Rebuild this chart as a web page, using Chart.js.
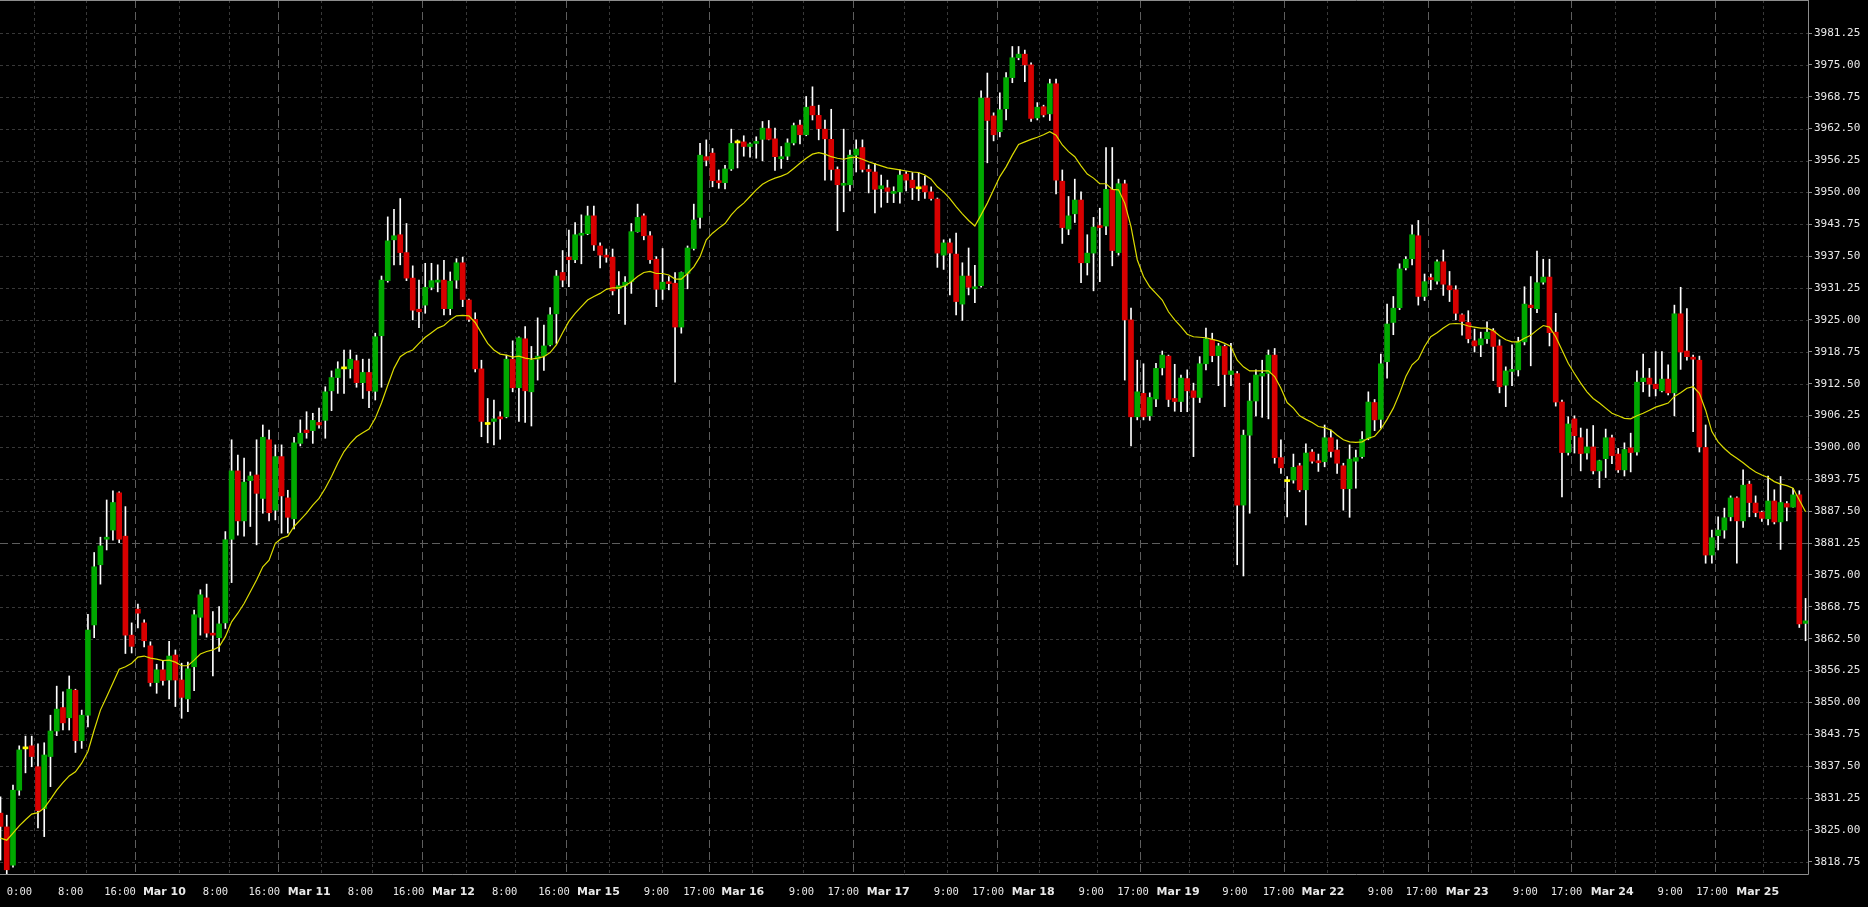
<!DOCTYPE html>
<html>
<head>
<meta charset="utf-8">
<title>Candles</title>
<script src="https://cdn.jsdelivr.net/npm/chart.js@4.4.1/dist/chart.umd.min.js"></script>
<style>
  html, body { margin: 0; padding: 0; background: #000; }
  #wrap { position: relative; width: 1868px; height: 907px; }
</style>
</head>
<body>
<div id="wrap"><canvas id="chart"></canvas></div>
<script>
const opens = [
  3828.3, 3825.6, 3818.1, 3832.8, 3840.9, 3841.5, 3837.4, 3829.2, 3839.4, 3844.4,
  3849.0, 3847.0, 3852.4, 3842.5, 3847.5, 3865.2, 3877.0, 3882.0, 3883.8, 3891.1,
  3882.6, 3863.2, 3868.3, 3865.6, 3861.1, 3853.9, 3856.4, 3854.4, 3859.3, 3854.4,
  3850.7, 3857.0, 3866.7, 3870.5, 3863.5, 3862.7, 3865.6, 3882.0, 3895.4, 3885.6,
  3893.5, 3894.6, 3890.0, 3901.5, 3887.7, 3898.2, 3890.1, 3886.0, 3900.8, 3903.4,
  3903.3, 3904.9, 3905.3, 3911.1, 3913.7, 3915.4, 3915.4, 3917.0, 3912.7, 3914.7,
  3911.0, 3921.9, 3932.7, 3940.7, 3941.7, 3938.2, 3933.2, 3927.1, 3927.9, 3931.4,
  3932.4, 3932.8, 3927.2, 3932.8, 3936.2, 3928.9, 3925.1, 3915.4, 3904.5, 3905.1,
  3906.0, 3906.0, 3917.3, 3911.7, 3921.3, 3910.9, 3917.3, 3918.0, 3920.1, 3926.2,
  3934.3, 3937.3, 3936.8, 3941.6, 3941.9, 3945.4, 3939.5, 3937.7, 3937.3, 3931.1,
  3931.7, 3932.5, 3942.3, 3945.4, 3941.5, 3936.9, 3931.0, 3932.4, 3932.2, 3923.6,
  3934.1, 3939.0, 3945.1, 3957.0, 3957.7, 3952.2, 3951.9, 3954.6, 3959.7, 3959.9,
  3959.0, 3959.6, 3960.4, 3962.5, 3960.5, 3956.6, 3957.1, 3959.7, 3963.2, 3961.3,
  3966.9, 3965.1, 3962.4, 3960.4, 3954.5, 3951.4, 3951.5, 3957.3, 3958.8, 3954.5,
  3954.0, 3950.7, 3950.9, 3949.8, 3950.1, 3953.6, 3952.4, 3950.7, 3951.3, 3950.1,
  3948.7, 3937.7, 3940.1, 3937.9, 3928.1, 3933.6, 3931.1, 3931.7, 3968.5, 3965.0,
  3961.9, 3966.4, 3972.5, 3976.4, 3977.1, 3975.0, 3964.6, 3966.8, 3965.4, 3971.3,
  3952.2, 3942.8, 3945.8, 3948.5, 3936.2, 3938.1, 3943.4, 3943.4, 3950.6, 3938.2,
  3951.7, 3925.0, 3906.0, 3910.6, 3906.2, 3909.5, 3915.6, 3917.9, 3909.6, 3909.0,
  3913.5, 3911.1, 3909.8, 3916.4, 3921.2, 3918.0, 3919.8, 3914.3, 3914.5, 3888.7,
  3902.4, 3909.1, 3914.0, 3914.5, 3918.1, 3898.0, 3893.3, 3893.6, 3896.4, 3891.7,
  3899.1, 3897.3, 3897.2, 3901.9, 3899.5, 3896.4, 3891.9, 3897.3, 3898.2, 3901.7,
  3908.8, 3905.5, 3916.8, 3924.5, 3927.4, 3935.2, 3937.0, 3941.5, 3929.6, 3933.2,
  3932.6, 3936.4, 3931.7, 3930.9, 3926.0, 3924.5, 3920.9, 3920.1, 3921.3, 3922.9,
  3919.9, 3912.2, 3914.9, 3915.2, 3920.7, 3927.9, 3927.2, 3932.4, 3933.4, 3922.6,
  3908.9, 3899.0, 3905.6, 3901.9, 3898.9, 3900.1, 3895.4, 3897.8, 3901.9, 3898.7,
  3895.6, 3899.9, 3899.1, 3912.9, 3913.6, 3912.4, 3911.1, 3913.4, 3910.7, 3926.2,
  3918.9, 3917.7, 3917.1, 3900.0, 3878.9, 3882.7, 3883.8, 3886.4, 3890.1, 3885.6,
  3892.8, 3889.1, 3887.3, 3886.0, 3889.5, 3885.4, 3889.0, 3888.3, 3890.7, 3865.5
];

const highs = [
  3831.5, 3827.9, 3833.8, 3841.5, 3843.4, 3843.4, 3841.9, 3842.1, 3847.5, 3853.2,
  3852.1, 3855.2, 3852.6, 3848.5, 3867.3, 3879.4, 3882.4, 3889.7, 3891.5, 3891.3,
  3888.4, 3865.6, 3869.3, 3866.2, 3861.9, 3857.5, 3858.2, 3862.0, 3860.3, 3857.7,
  3857.9, 3868.1, 3872.1, 3873.2, 3867.8, 3868.8, 3883.5, 3901.5, 3898.5, 3897.9,
  3895.2, 3901.5, 3904.4, 3903.4, 3900.5, 3900.5, 3891.6, 3902.0, 3905.4, 3907.0,
  3906.7, 3907.7, 3911.9, 3915.0, 3916.8, 3919.1, 3919.1, 3918.1, 3917.3, 3917.3,
  3922.4, 3933.6, 3945.2, 3946.7, 3948.8, 3943.9, 3935.6, 3932.8, 3936.1, 3936.1,
  3935.8, 3936.7, 3934.4, 3937.0, 3937.3, 3929.1, 3926.4, 3917.1, 3909.6, 3909.3,
  3907.0, 3918.1, 3920.9, 3921.7, 3923.7, 3919.8, 3925.4, 3924.0, 3927.4, 3934.7,
  3938.6, 3942.6, 3944.1, 3945.6, 3947.3, 3947.3, 3940.1, 3938.9, 3938.9, 3934.5,
  3933.5, 3943.9, 3947.7, 3945.8, 3942.3, 3937.4, 3939.0, 3933.5, 3934.3, 3934.4,
  3939.5, 3947.7, 3959.6, 3960.3, 3958.6, 3954.4, 3955.3, 3962.4, 3960.3, 3961.1,
  3959.7, 3960.9, 3963.9, 3964.1, 3962.6, 3959.0, 3960.5, 3963.6, 3964.2, 3968.8,
  3970.7, 3967.1, 3964.2, 3966.3, 3955.0, 3962.4, 3958.3, 3960.3, 3960.3, 3955.4,
  3955.7, 3953.4, 3952.4, 3951.1, 3954.4, 3954.1, 3953.9, 3953.9, 3953.2, 3951.1,
  3948.9, 3940.7, 3940.9, 3942.0, 3936.2, 3939.1, 3935.7, 3969.9, 3973.4, 3965.6,
  3969.5, 3973.5, 3978.6, 3978.6, 3977.9, 3975.4, 3967.6, 3967.1, 3972.2, 3972.2,
  3954.4, 3949.2, 3952.6, 3950.1, 3941.7, 3945.1, 3946.9, 3958.8, 3958.8, 3952.6,
  3952.4, 3927.3, 3917.1, 3916.4, 3910.7, 3916.5, 3918.9, 3918.1, 3916.3, 3914.2,
  3915.2, 3912.6, 3917.8, 3923.4, 3922.4, 3920.4, 3920.1, 3920.4, 3914.9, 3903.4,
  3912.6, 3915.2, 3917.1, 3919.1, 3919.4, 3901.5, 3894.3, 3898.7, 3896.9, 3900.7,
  3899.6, 3898.7, 3904.4, 3903.4, 3901.5, 3896.9, 3900.5, 3899.5, 3903.1, 3910.9,
  3909.4, 3918.3, 3928.1, 3929.6, 3936.0, 3937.4, 3943.6, 3944.5, 3934.0, 3934.0,
  3936.8, 3938.7, 3934.5, 3931.7, 3926.2, 3926.8, 3923.2, 3922.6, 3924.6, 3923.3,
  3921.1, 3915.8, 3920.1, 3921.6, 3931.5, 3933.5, 3938.5, 3936.9, 3936.9, 3926.3,
  3909.3, 3906.0, 3906.2, 3903.8, 3903.6, 3904.3, 3897.5, 3903.6, 3902.4, 3899.8,
  3900.9, 3902.8, 3915.0, 3918.3, 3915.5, 3918.8, 3918.8, 3916.2, 3927.9, 3931.4,
  3927.2, 3918.1, 3917.9, 3904.4, 3883.8, 3886.4, 3888.1, 3890.5, 3890.3, 3895.6,
  3893.4, 3890.5, 3887.5, 3894.4, 3891.7, 3894.3, 3889.4, 3892.0, 3891.5, 3870.4
];

const lows = [
  3819.1, 3816.4, 3817.7, 3831.8, 3836.2, 3837.4, 3825.4, 3823.7, 3833.5, 3843.5,
  3844.6, 3844.6, 3840.2, 3841.0, 3845.2, 3862.7, 3873.2, 3879.9, 3881.8, 3881.3,
  3859.6, 3859.7, 3864.6, 3860.9, 3853.2, 3851.8, 3853.4, 3850.7, 3849.2, 3846.9,
  3848.2, 3852.3, 3863.2, 3862.8, 3855.2, 3860.0, 3864.5, 3873.5, 3882.8, 3882.6,
  3884.5, 3880.9, 3887.1, 3885.6, 3885.8, 3883.2, 3883.2, 3884.0, 3900.3, 3901.8,
  3900.8, 3903.8, 3901.8, 3907.2, 3910.6, 3910.6, 3913.6, 3911.8, 3909.6, 3907.8,
  3909.3, 3911.8, 3932.4, 3935.8, 3935.8, 3932.7, 3925.0, 3923.5, 3926.3, 3930.9,
  3930.5, 3926.0, 3926.0, 3931.2, 3927.6, 3924.7, 3914.8, 3902.1, 3900.9, 3900.5,
  3901.6, 3905.8, 3910.9, 3905.1, 3904.9, 3904.2, 3913.2, 3915.1, 3919.9, 3920.4,
  3931.5, 3931.5, 3936.2, 3936.0, 3941.7, 3938.6, 3935.2, 3936.3, 3929.9, 3926.2,
  3924.1, 3930.2, 3942.2, 3940.7, 3936.1, 3927.6, 3929.0, 3930.9, 3912.8, 3922.4,
  3931.1, 3938.7, 3943.0, 3955.2, 3951.1, 3950.8, 3950.7, 3954.3, 3954.8, 3957.1,
  3956.9, 3956.7, 3956.2, 3960.3, 3954.3, 3954.7, 3956.4, 3959.3, 3959.5, 3961.1,
  3964.2, 3960.3, 3952.4, 3952.4, 3942.5, 3946.2, 3950.3, 3954.0, 3954.0, 3949.9,
  3946.0, 3947.1, 3948.0, 3948.0, 3947.9, 3950.3, 3948.6, 3948.4, 3948.8, 3948.5,
  3935.3, 3934.9, 3929.9, 3926.0, 3924.9, 3929.9, 3928.4, 3931.4, 3955.8, 3960.1,
  3960.9, 3964.2, 3971.5, 3976.0, 3971.7, 3963.9, 3964.2, 3964.8, 3964.1, 3949.7,
  3940.0, 3941.7, 3944.1, 3932.3, 3933.8, 3930.7, 3932.5, 3941.7, 3935.6, 3937.7,
  3913.2, 3900.3, 3905.4, 3905.4, 3905.3, 3908.0, 3914.2, 3908.0, 3907.1, 3907.0,
  3907.0, 3898.2, 3908.8, 3915.2, 3916.8, 3912.1, 3908.0, 3912.1, 3877.0, 3874.8,
  3887.1, 3906.2, 3905.9, 3905.6, 3896.9, 3894.9, 3886.4, 3893.0, 3891.3, 3884.8,
  3896.9, 3895.3, 3896.2, 3898.1, 3894.9, 3887.7, 3886.3, 3892.0, 3897.9, 3901.5,
  3903.3, 3903.8, 3913.6, 3922.1, 3927.0, 3934.8, 3935.8, 3927.9, 3928.8, 3930.9,
  3932.0, 3929.8, 3928.6, 3925.0, 3922.0, 3920.5, 3918.7, 3917.8, 3920.4, 3913.1,
  3910.7, 3908.0, 3912.1, 3914.0, 3920.1, 3916.0, 3926.4, 3932.0, 3919.9, 3908.1,
  3890.3, 3898.5, 3898.9, 3895.4, 3897.7, 3894.8, 3892.1, 3894.1, 3896.8, 3895.1,
  3894.4, 3895.2, 3898.5, 3910.9, 3910.0, 3910.1, 3910.9, 3910.3, 3906.2, 3915.3,
  3917.1, 3903.1, 3899.1, 3877.3, 3877.3, 3879.9, 3882.2, 3885.6, 3877.3, 3884.3,
  3886.4, 3886.4, 3885.5, 3884.8, 3885.0, 3880.0, 3885.6, 3888.3, 3864.7, 3862.1
];

const closes = [
  3825.7, 3817.2, 3832.8, 3840.7, 3840.9, 3839.4, 3828.8, 3839.7, 3844.4, 3848.7,
  3846.0, 3852.6, 3842.5, 3847.5, 3864.2, 3876.6, 3880.7, 3882.4, 3889.2, 3882.0,
  3863.2, 3861.0, 3867.5, 3862.1, 3853.9, 3856.4, 3854.3, 3859.1, 3854.4, 3851.0,
  3856.6, 3867.2, 3871.1, 3863.6, 3863.2, 3865.4, 3881.9, 3895.4, 3885.6, 3893.2,
  3894.4, 3891.0, 3902.0, 3887.2, 3898.2, 3890.5, 3886.3, 3900.9, 3902.8, 3902.9,
  3905.3, 3904.4, 3910.9, 3913.7, 3915.4, 3915.4, 3917.3, 3912.7, 3914.7, 3911.1,
  3921.7, 3932.8, 3940.5, 3941.5, 3938.2, 3933.2, 3926.9, 3926.6, 3931.4, 3932.7,
  3932.8, 3927.2, 3932.6, 3936.2, 3929.0, 3925.1, 3915.4, 3905.1, 3904.5, 3905.6,
  3905.6, 3917.3, 3911.7, 3921.5, 3911.1, 3917.1, 3917.9, 3919.9, 3926.0, 3933.6,
  3932.8, 3936.8, 3941.7, 3942.0, 3945.4, 3939.7, 3937.7, 3937.3, 3930.7, 3931.7,
  3932.4, 3942.3, 3945.1, 3941.5, 3936.8, 3931.0, 3932.4, 3932.1, 3923.6, 3934.3,
  3939.1, 3944.6, 3957.3, 3956.3, 3952.3, 3951.9, 3954.6, 3959.6, 3959.7, 3959.0,
  3959.5, 3959.9, 3962.6, 3960.4, 3957.0, 3957.0, 3959.7, 3963.1, 3961.3, 3966.7,
  3965.2, 3962.5, 3960.5, 3954.5, 3951.5, 3951.7, 3957.3, 3958.5, 3954.5, 3954.1,
  3950.6, 3951.3, 3950.2, 3950.1, 3953.4, 3952.4, 3950.9, 3950.7, 3950.1, 3948.8,
  3938.1, 3940.1, 3938.1, 3928.6, 3933.6, 3931.4, 3931.5, 3968.5, 3964.1, 3961.3,
  3966.2, 3972.5, 3976.4, 3977.1, 3975.0, 3964.5, 3966.7, 3965.2, 3971.3, 3952.4,
  3943.1, 3945.4, 3948.5, 3936.2, 3938.1, 3943.2, 3943.1, 3950.6, 3938.6, 3951.7,
  3925.0, 3906.0, 3910.9, 3906.0, 3909.8, 3915.5, 3918.1, 3909.4, 3909.0, 3913.6,
  3911.1, 3909.8, 3916.4, 3921.3, 3918.0, 3919.9, 3914.3, 3915.0, 3888.7, 3902.4,
  3909.1, 3914.2, 3914.5, 3918.1, 3898.0, 3896.0, 3893.3, 3896.1, 3891.7, 3898.9,
  3897.3, 3897.0, 3901.9, 3899.2, 3896.9, 3891.9, 3897.7, 3898.0, 3901.6, 3908.9,
  3905.4, 3916.4, 3924.2, 3927.3, 3935.0, 3936.9, 3941.7, 3929.6, 3932.5, 3932.9,
  3936.4, 3932.0, 3930.9, 3926.3, 3924.7, 3921.3, 3919.9, 3921.3, 3922.6, 3919.8,
  3911.9, 3915.0, 3915.2, 3920.7, 3928.1, 3927.4, 3932.3, 3933.4, 3922.5, 3908.9,
  3899.0, 3904.6, 3902.3, 3898.8, 3900.1, 3895.4, 3897.4, 3901.9, 3898.4, 3895.6,
  3899.6, 3899.0, 3912.8, 3913.6, 3912.4, 3911.5, 3913.4, 3910.7, 3926.2, 3918.7,
  3917.8, 3917.3, 3900.1, 3878.9, 3882.3, 3883.8, 3886.2, 3890.1, 3885.6, 3892.6,
  3889.2, 3887.2, 3886.1, 3889.5, 3885.4, 3889.2, 3888.3, 3890.7, 3865.4, 3866.0
];

// moving average
const ma = [
  3823.4, 3823.0, 3824.4, 3825.8, 3827.0, 3828.1, 3828.4, 3829.3, 3831.0, 3832.8,
  3834.3, 3835.6, 3836.4, 3838.1, 3840.4, 3844.6, 3848.5, 3851.1, 3853.8, 3856.5,
  3857.0, 3857.7, 3858.9, 3859.1, 3858.7, 3858.5, 3858.2, 3858.3, 3857.9, 3857.2,
  3857.2, 3858.3, 3859.5, 3860.0, 3860.3, 3860.9, 3862.9, 3865.8, 3867.5, 3869.4,
  3871.7, 3874.0, 3876.6, 3877.9, 3881.2, 3882.2, 3882.6, 3884.5, 3885.8, 3887.1,
  3888.7, 3890.0, 3892.0, 3894.3, 3896.9, 3899.2, 3900.8, 3902.1, 3902.9, 3903.6,
  3905.7, 3908.7, 3912.2, 3915.5, 3917.8, 3918.6, 3919.1, 3920.4, 3921.6, 3922.5,
  3923.4, 3923.9, 3925.0, 3925.8, 3925.9, 3925.8, 3924.5, 3922.4, 3920.4, 3919.1,
  3918.3, 3918.1, 3917.7, 3917.9, 3917.5, 3917.3, 3917.5, 3917.8, 3918.6, 3920.1,
  3922.5, 3924.7, 3926.3, 3927.6, 3928.9, 3929.6, 3930.2, 3931.0, 3931.3, 3931.3,
  3931.7, 3932.5, 3933.5, 3934.3, 3934.5, 3934.1, 3934.1, 3933.8, 3933.0, 3933.0,
  3934.1, 3935.4, 3937.4, 3940.7, 3942.0, 3943.0, 3943.9, 3945.6, 3946.9, 3947.9,
  3949.2, 3950.5, 3951.6, 3952.3, 3952.8, 3953.2, 3953.7, 3954.7, 3955.7, 3956.7,
  3957.5, 3957.8, 3957.5, 3957.0, 3956.7, 3956.5, 3956.8, 3956.9, 3956.5, 3956.0,
  3955.6, 3955.2, 3954.8, 3954.6, 3954.4, 3954.2, 3954.0, 3953.9, 3953.4, 3952.6,
  3951.1, 3950.1, 3948.8, 3947.2, 3945.8, 3944.5, 3943.4, 3945.6, 3947.9, 3950.5,
  3953.1, 3955.0, 3957.3, 3959.4, 3959.9, 3960.4, 3960.8, 3961.3, 3961.9, 3961.2,
  3959.3, 3958.0, 3957.0, 3955.2, 3953.6, 3952.8, 3951.7, 3951.7, 3950.6, 3950.5,
  3947.9, 3943.3, 3936.8, 3933.5, 3931.5, 3930.2, 3928.9, 3926.6, 3925.0, 3923.7,
  3922.2, 3921.7, 3921.6, 3921.5, 3921.2, 3920.9, 3920.4, 3919.8, 3917.1, 3915.8,
  3915.0, 3915.0, 3915.0, 3915.0, 3913.9, 3911.6, 3908.8, 3907.7, 3906.2, 3905.5,
  3904.9, 3904.1, 3903.9, 3903.4, 3902.4, 3901.5, 3901.1, 3901.0, 3901.1, 3901.8,
  3902.2, 3903.6, 3905.5, 3907.7, 3910.6, 3913.9, 3916.2, 3917.3, 3919.8, 3921.7,
  3922.5, 3923.4, 3924.2, 3924.3, 3924.2, 3923.8, 3923.6, 3923.4, 3923.4, 3922.9,
  3921.9, 3921.1, 3920.7, 3920.7, 3921.4, 3922.0, 3923.0, 3923.9, 3923.6, 3921.7,
  3919.1, 3916.5, 3914.5, 3912.6, 3910.9, 3909.6, 3908.7, 3907.7, 3906.7, 3906.2,
  3905.7, 3905.6, 3906.2, 3906.7, 3907.3, 3907.9, 3908.3, 3908.7, 3910.0, 3910.7,
  3911.6, 3911.9, 3910.6, 3907.3, 3903.1, 3901.1, 3899.8, 3898.7, 3897.9, 3897.0,
  3896.0, 3895.2, 3894.6, 3894.1, 3893.3, 3892.8, 3892.5, 3892.0, 3889.7, 3887.4
];

const yTicks = [
  3818.75, 3825.0, 3831.25, 3837.5, 3843.75, 3850.0, 3856.25, 3862.5, 3868.75,
  3875.0, 3881.25, 3887.5, 3893.75, 3900.0, 3906.25, 3912.5, 3918.75, 3925.0,
  3931.25, 3937.5, 3943.75, 3950.0, 3956.25, 3962.5, 3968.75, 3975.0, 3981.25
];

const tickLabels = [
  "0:00", "8:00", "16:00", "Mar 10", "8:00", "16:00", "Mar 11", "8:00", "16:00",
  "Mar 12", "8:00", "16:00", "Mar 15", "9:00", "17:00", "Mar 16", "9:00", "17:00",
  "Mar 17", "9:00", "17:00", "Mar 18", "9:00", "17:00", "Mar 19", "9:00", "17:00",
  "Mar 22", "9:00", "17:00", "Mar 23", "9:00", "17:00", "Mar 24", "9:00", "17:00",
  "Mar 25"
];
// bar index where each label starts
const tickIdx = [
  1.0, 9.2, 16.6, 22.8, 32.4, 39.7, 46.0, 55.6, 62.8,
  69.1, 78.7, 86.1, 92.3, 103.0, 109.3, 115.4, 126.2, 132.4,
  138.7, 149.4, 155.6, 161.9, 172.6, 178.8, 185.1, 195.6, 202.1,
  208.3, 218.9, 225.0, 231.4, 242.1, 248.2, 254.6, 265.3, 271.5,
  277.9
];

const gridIdx = [
  5.4, 13.7, 28.6, 36.6, 51.3, 59.5, 74.5, 82.4, 97.4, 105.9, 120.3, 128.5,
  144.7, 151.6, 166.3, 175.6, 190.3, 197.3, 212.4, 221.4, 235.4, 242.3,
  258.5, 264.9, 282.2
];
const daySeparators = [
  21.5, 44.5, 67.5, 90.5, 113.5, 136.5, 159.5, 182.5, 205.5, 228.5, 251.5, 274.5
];
const markedLevel = 3881.25;

const UP_COLOR = "#00a800";
const DOWN_COLOR = "#d80000";
const DOJI_COLOR = "#ffff00";

function candleColor(i) {
  if (closes[i] > opens[i]) return UP_COLOR;
  if (closes[i] < opens[i]) return DOWN_COLOR;
  return DOJI_COLOR;
}

function strokeLine(ctx, x1, y1, x2, y2) {
  ctx.beginPath();
  ctx.moveTo(x1, y1);
  ctx.lineTo(x2, y2);
  ctx.stroke();
}

const gridPlugin = {
  id: "gridPlugin",
  beforeDatasetsDraw(chart) {
    const { ctx, chartArea: area, scales } = chart;
    ctx.save();
    ctx.lineWidth = 1;

    ctx.strokeStyle = "#383838";
    ctx.setLineDash([3, 3]);
    for (const v of yTicks) {
      if (v === markedLevel) continue;
      const py = Math.round(scales.y.getPixelForValue(v)) + 0.5;
      strokeLine(ctx, area.left, py, area.right, py);
    }
    for (const v of gridIdx) {
      const px = Math.round(scales.x.getPixelForValue(v)) + 0.5;
      strokeLine(ctx, px, area.top, px, area.bottom);
    }

    ctx.strokeStyle = "#5e5e5e";
    ctx.setLineDash([8, 4]);
    for (const v of daySeparators) {
      const px = Math.round(scales.x.getPixelForValue(v)) + 0.5;
      strokeLine(ctx, px, area.top, px, area.bottom);
    }
    const ly = Math.round(scales.y.getPixelForValue(markedLevel)) + 0.5;
    strokeLine(ctx, area.left, ly, area.right, ly);
    ctx.restore();
  },
  afterDatasetsDraw(chart) {
    const { ctx, chartArea: area } = chart;
    ctx.save();
    ctx.strokeStyle = "#8c8c8c";
    ctx.lineWidth = 1;
    const r = Math.round(area.right) + 0.5;
    const b = Math.round(area.bottom) + 0.5;
    strokeLine(ctx, area.left, 0.5, r, 0.5);
    strokeLine(ctx, r, 0, r, b);
    strokeLine(ctx, area.left, b, r, b);
    ctx.restore();
  },
};

const chart = new Chart(document.getElementById("chart"), {
  type: "bar",
  data: {
    datasets: [
      {
        type: "line",
        label: "MA",
        data: ma.map((v, i) => ({ x: i, y: v })),
        borderColor: "#dcdc00",
        borderWidth: 1.2,
        pointRadius: 0,
        tension: 0,
        order: 0,
      },
      {
        label: "Body",
        data: opens.map((o, i) => ({ x: i, y: [o, closes[i]] })),
        backgroundColor: (ctx) => candleColor(ctx.dataIndex),
        barThickness: 5,
        minBarLength: 2,
        grouped: false,
        order: 1,
      },
      {
        label: "Wick",
        data: lows.map((l, i) => ({ x: i, y: [l, highs[i]] })),
        backgroundColor: "#ffffff",
        barThickness: 1,
        grouped: false,
        order: 2,
      },
    ],
  },
  options: {
    responsive: true,
    maintainAspectRatio: false,
    devicePixelRatio: 1,
    animation: false,
    events: [],
    layout: { padding: 0 },
    plugins: { legend: { display: false }, tooltip: { enabled: false } },
    scales: {
      x: {
        type: "linear",
        min: -0.08,
        max: 289.39,
        offset: false,
        grid: { display: false, drawTicks: false },
        border: { display: false },
        afterBuildTicks: (scale) => {
          scale.ticks = tickIdx.map((v) => ({ value: v }));
        },
        afterFit: (scale) => {
          scale.height = 33;
          scale.paddingLeft = 0;
          scale.paddingRight = 0;
        },
        ticks: {
          autoSkip: false,
          maxRotation: 0,
          minRotation: 0,
          align: "start",
          padding: 12,
          color: "#e8e8e8",
          callback: (value, index) => tickLabels[index],
          font: (ctx) =>
            tickLabels[ctx.index] && tickLabels[ctx.index].startsWith("Mar")
              ? { family: "DejaVu Sans", size: 11, weight: "bold" }
              : { family: "DejaVu Sans Mono", size: 10.5 },
        },
      },
      y: {
        position: "right",
        min: 3816.37,
        max: 3987.72,
        grid: {
          display: true,
          drawOnChartArea: false,
          drawTicks: true,
          tickLength: 4,
          color: "#8c8c8c",
        },
        border: { display: false },
        afterBuildTicks: (scale) => {
          scale.ticks = yTicks.map((v) => ({ value: v }));
        },
        afterFit: (scale) => {
          scale.width = 60;
          scale.paddingTop = 0;
          scale.paddingBottom = 0;
        },
        ticks: {
          padding: 2,
          color: "#e8e8e8",
          font: { family: "DejaVu Sans Mono", size: 11 },
          callback: (value) => Number(value).toFixed(2),
        },
      },
    },
  },
  plugins: [gridPlugin],
});
</script>
</body>
</html>
